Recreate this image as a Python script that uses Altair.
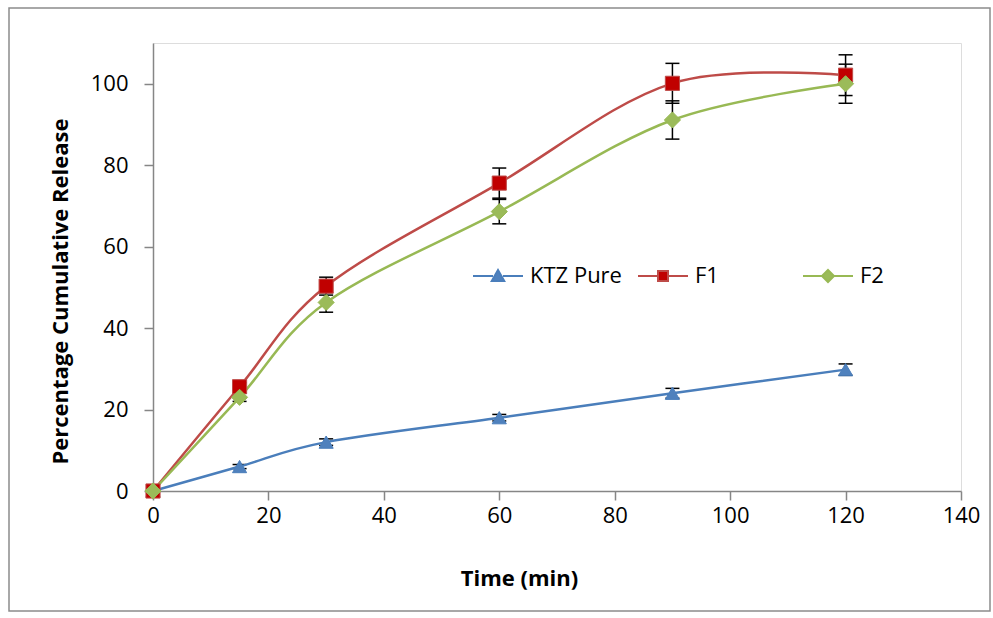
import altair as alt
import pandas as pd

time_min = [0, 15, 30, 60, 90, 120]
series_names = ["KTZ Pure", "F1", "F2"]
ktz_pure = [0, 6.0, 12.0, 18.0, 24.0, 29.8]
ktz_err = [0, 0.5, 0.8, 0.8, 1.2, 1.4]
f1 = [0, 25.6, 50.3, 75.6, 100.1, 102.1]
f1_err = [0, 1.0, 2.2, 3.7, 4.9, 5.0]
f2 = [0, 23.0, 46.3, 68.6, 91.1, 100.0]
f2_err = [0, 1.0, 2.4, 3.0, 4.7, 4.8]

line_colors = ["#4A7EBB", "#BE4B48", "#98B954"]
fill_colors = ["#4F81BD", "#C00000", "#9BBB59"]
marker_shapes = ["triangle-up", "square", "diamond"]
marker_sizes = [200, 200, 260]
legend_paths = [
    "M-1,0L-0.2,0M0.2,0L1,0M0,-0.24L0.25,0.2L-0.25,0.2Z",
    "M-1,0L-0.2,0M0.2,0L1,0M-0.2,-0.2L0.2,-0.2L0.2,0.2L-0.2,0.2Z",
    "M-1,0L-0.22,0M0.22,0L1,0M0,-0.24L0.24,0L0,0.24L-0.24,0Z",
]

rows = []
for name, vals, errs in zip(series_names, [ktz_pure, f1, f2], [ktz_err, f1_err, f2_err]):
    for t, v, e in zip(time_min, vals, errs):
        rows.append({"series": name, "time": t, "value": v, "err": e,
                     "lo": v - e, "hi": v + e})
df = pd.DataFrame(rows)

FONT = "Open Sans"
x_enc = alt.X("time:Q", scale=alt.Scale(domain=[0, 140], nice=False),
              axis=alt.Axis(values=list(range(0, 141, 20)), grid=False,
                            title="Time (min)", titleFont=FONT, titleFontSize=22,
                            titleFontWeight="bold", titleColor="black",
                            titleX=366, titleY=87, titleAlign="center",
                            titleBaseline="middle", titleAnchor="start",
                            labelFont=FONT, labelFontSize=22, labelColor="black",
                            labelFlush=False, labelPadding=5, tickSize=9,
                            tickColor="#868686", domainColor="#868686",
                            domainWidth=1.5, tickWidth=1.5))
y_enc = alt.Y("value:Q", scale=alt.Scale(domain=[0, 110], nice=False),
              axis=alt.Axis(values=list(range(0, 101, 20)), grid=False,
                            title="Percentage Cumulative Release", titleFont=FONT,
                            titleFontSize=22, titleFontWeight="bold", titleColor="black",
                            titleX=-93, titleY=248, titleAngle=-90, titleAlign="center",
                            titleBaseline="middle", titleAnchor="start",
                            labelFont=FONT, labelFontSize=22, labelColor="black",
                            labelFlush=False, labelPadding=16, tickSize=9,
                            tickColor="#868686", domainColor="#868686",
                            domainWidth=1.5, tickWidth=1.5))

base = alt.Chart(df)
eb = base.transform_filter("datum.err > 0")
err_rule = eb.mark_rule(color="black", strokeWidth=1.5).encode(
    x=x_enc, y=alt.Y("lo:Q"), y2="hi:Q")
err_lo = eb.mark_tick(color="black", orient="horizontal", size=14, thickness=1.5,
                      opacity=1).encode(x="time:Q", y="lo:Q")
err_hi = eb.mark_tick(color="black", orient="horizontal", size=14, thickness=1.5,
                      opacity=1).encode(x="time:Q", y="hi:Q")

lines = base.mark_line(interpolate="cardinal", strokeWidth=2.5).encode(
    x=x_enc, y=y_enc,
    color=alt.Color("series:N", scale=alt.Scale(domain=series_names, range=line_colors),
                    legend=None),
    detail="series:N")

point_layers = []
for name, shp, fc, lc, sz in zip(series_names, marker_shapes, fill_colors, line_colors, marker_sizes):
    point_layers.append(
        base.transform_filter(alt.datum.series == name).mark_point(
            shape=shp, filled=True, fill=fc, stroke=lc, strokeWidth=1, size=sz, opacity=1
        ).encode(x="time:Q", y="value:Q"))

leg = alt.Legend(title=None, orient="none", legendX=319, legendY=207,
                 direction="horizontal", columns=3, gridAlign="all",
                 columnPadding=12, padding=0, labelOffset=6,
                 labelFont=FONT, labelFontSize=22, labelColor="black",
                 labelLimit=300, symbolSize=2500, symbolStrokeWidth=2,
                 symbolOpacity=1)

legend_layer = base.mark_point(filled=True, size=2500, opacity=0, strokeWidth=2).encode(
    x="time:Q", y="value:Q",
    fill=alt.Fill("series:N", scale=alt.Scale(domain=series_names, range=fill_colors),
                  legend=leg),
    stroke=alt.Stroke("series:N", scale=alt.Scale(domain=series_names, range=line_colors),
                      legend=leg),
    shape=alt.Shape("series:N", scale=alt.Scale(domain=series_names, range=legend_paths),
                    legend=leg),
)

frame = alt.Chart(pd.DataFrame({"a": [1]})).mark_rect(
    filled=False, stroke="#8C8C8C", strokeWidth=1.5).encode(
    x=alt.value(-144), x2=alt.value(837), y=alt.value(-35), y2=alt.value(568))

chart = alt.layer(frame, legend_layer, err_rule, err_lo, err_hi, lines, *point_layers).properties(
    width=808, height=448,
    autosize=alt.AutoSizeParams(type="none"),
    padding={"left": 153, "top": 43, "right": 32, "bottom": 127},
).configure_view(stroke=None).configure(background="white")

chart.save("out.html", embed_options={"renderer": "svg", "actions": False})
